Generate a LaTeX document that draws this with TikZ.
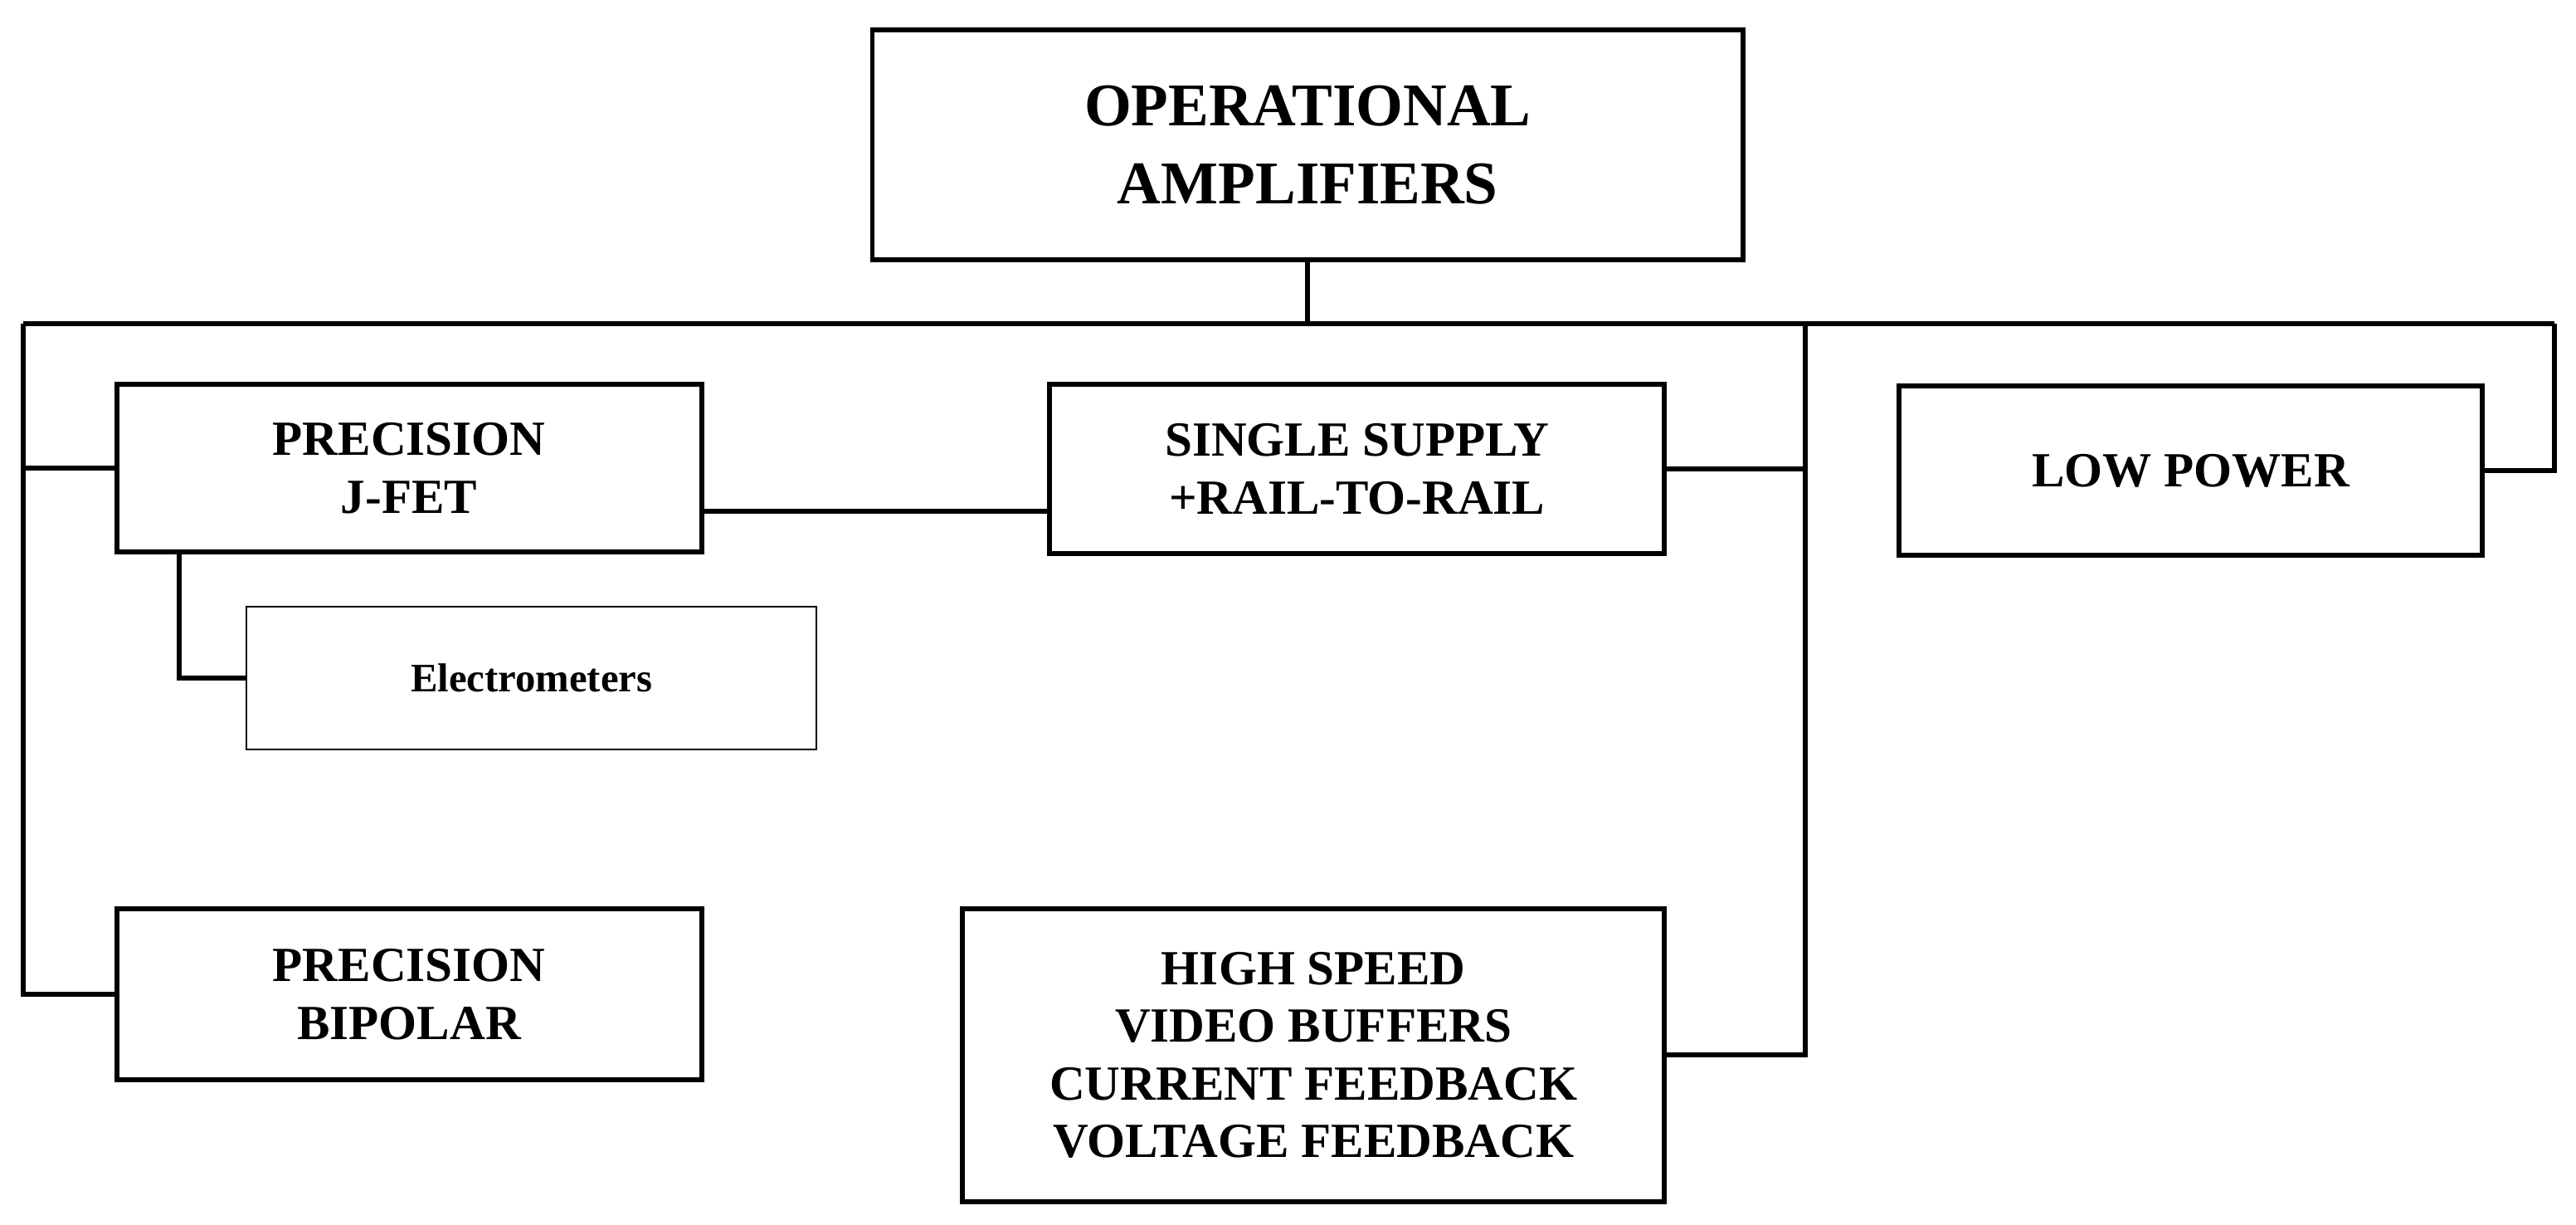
\documentclass[tikz,border=0pt]{standalone}
\usepackage{fontspec}
\setmainfont{Liberation Serif}
\begin{document}
\begin{tikzpicture}[x=0.02cm,y=-0.02cm,
 bx/.style={draw,line width=1.7pt,inner sep=0pt,align=center,font=\bfseries\fontsize{17}{20}\selectfont},
 ln/.style={line width=1.7pt}]
\useasboundingbox (0,0) rectangle (1568,745);
\node[bx,minimum width=530*0.02cm,minimum height=140*0.02cm,font=\bfseries\fontsize{21}{27}\selectfont] (top) at (796,88) {OPERATIONAL\\AMPLIFIERS};
\node[bx,minimum width=356*0.02cm,minimum height=102*0.02cm] (jfet) at (249,285) {PRECISION\\J-FET};
\node[bx,minimum width=356*0.02cm,minimum height=104*0.02cm] (bip) at (249,605) {PRECISION\\BIPOLAR};
\node[bx,line width=0.6pt,minimum width=347*0.02cm,minimum height=87*0.02cm,font=\bfseries\fontsize{14}{17}\selectfont] (el) at (323.5,412.5) {Electrometers};
\node[bx,minimum width=374*0.02cm,minimum height=103*0.02cm] (ss) at (826,285.5) {SINGLE SUPPLY\\+RAIL-TO-RAIL};
\node[bx,minimum width=427*0.02cm,minimum height=178*0.02cm] (hs) at (799.5,642) {HIGH SPEED\\VIDEO BUFFERS\\CURRENT FEEDBACK\\VOLTAGE FEEDBACK};
\node[bx,minimum width=355*0.02cm,minimum height=103*0.02cm] (lp) at (1333.5,286.5) {LOW POWER};
\coordinate (bl) at (14,197);
\coordinate (br) at (1555,197);
\coordinate (bm) at (1099,197);
\draw[ln] (bl) -- (br);
\draw[ln] (top.south) -- (top.south |- bl);
\draw[ln] (bl) |- (bip.west);
\draw[ln] (jfet.west) -- (jfet.west -| bl);
\draw[ln] (jfet.south -| 109,0) |- (el.west);
\draw[ln] ([yshift=-26*0.02cm]jfet.east) -- ([yshift=-26*0.02cm]jfet.east -| ss.west);
\draw[ln] (bm) |- (hs.east);
\draw[ln] (ss.east) -- (ss.east -| bm);
\draw[ln] (lp.east) -| (br);
\end{tikzpicture}
\end{document}
